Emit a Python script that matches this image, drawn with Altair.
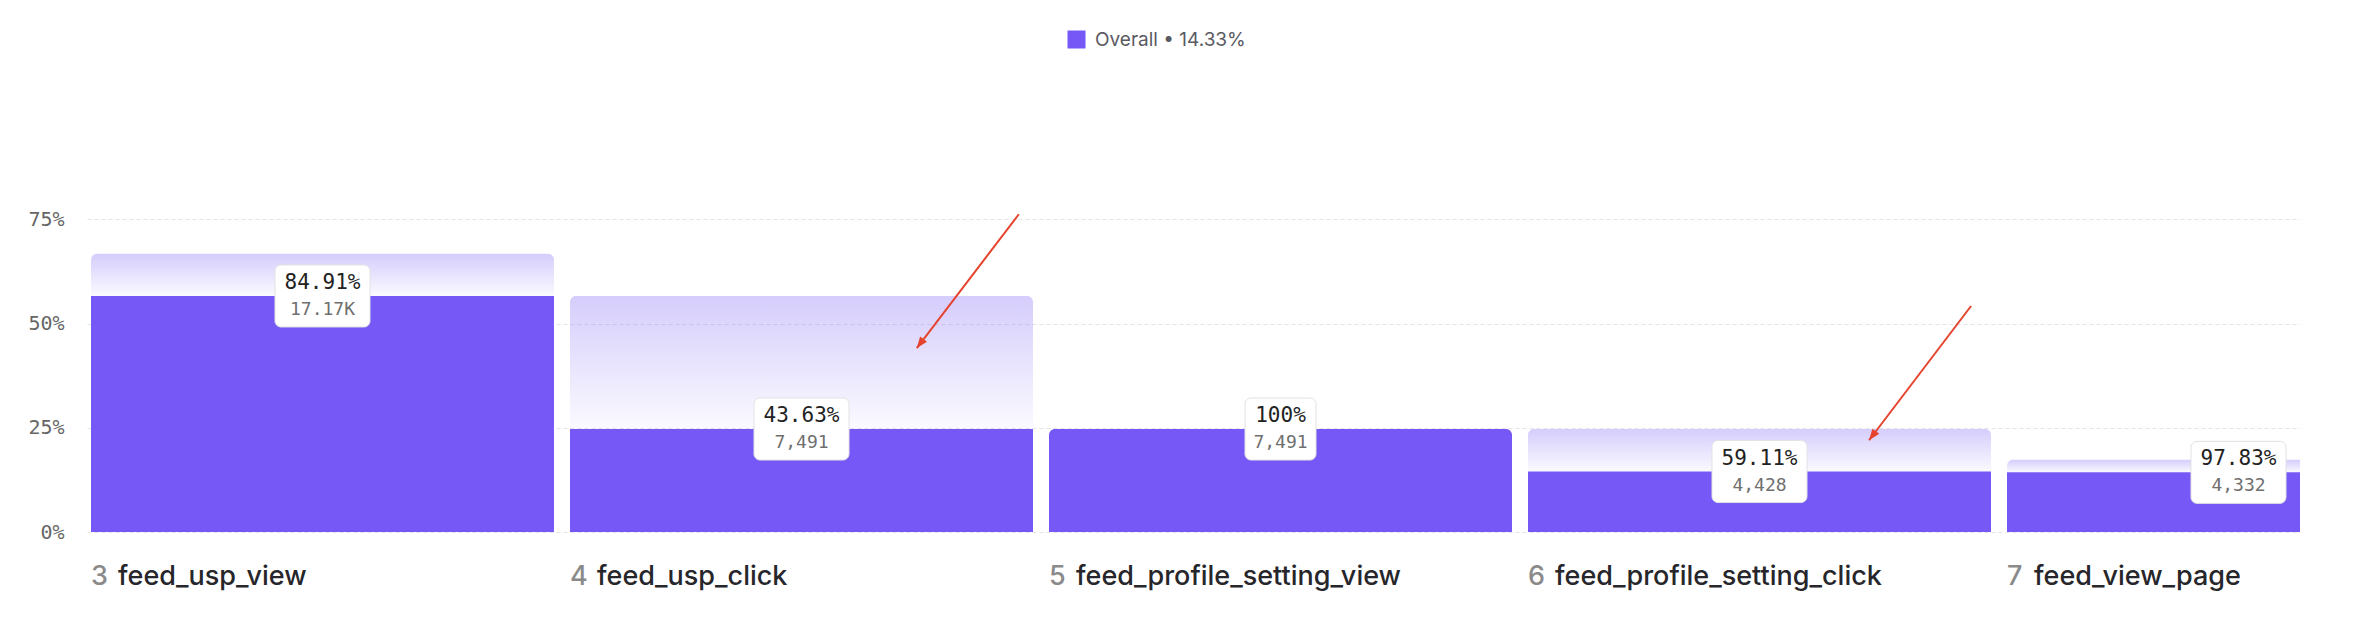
import altair as alt
import pandas as pd

# ---- data ----
step_index = [0, 1, 2, 3, 4]
step_nums = ["3", "4", "5", "6", "7"]
step_names = ["feed_usp_view", "feed_usp_click", "feed_profile_setting_view",
              "feed_profile_setting_click", "feed_view_page"]
entered_pct = [66.7, 56.6, 24.7, 24.7, 17.3]      # light (previous step) level, % of funnel start
converted_pct = [56.6, 24.7, 24.7, 14.5, 14.3]    # dark (converted) level, % of funnel start
rate_labels = ["84.91%", "43.63%", "100%", "59.11%", "97.83%"]
count_labels = ["17.17K", "7,491", "7,491", "4,428", "4,332"]
series_name = ["Overall • 14.33%"] * 5
y_ticks = [0, 25, 50, 75]

# annotation arrows (x in step units, y in %)
arrow_tail_x = [1.937, 3.925]
arrow_tail_y = [76.2, 54.2]
arrow_head_x = [1.724, 3.712]
arrow_head_y = [44.1, 22.0]

df = pd.DataFrame({
    "idx": step_index, "num": step_nums, "name": step_names,
    "entered": entered_pct, "converted": converted_pct,
    "rate": rate_labels, "count": count_labels, "series": series_name,
})
arrows = pd.DataFrame({"tx": arrow_tail_x, "ty": arrow_tail_y,
                       "hx": arrow_head_x, "hy": arrow_head_y})

W, H = 2213, 417
STEP = 479.0
BAR_FRAC = 463.0 / STEP
PURPLE = "#7558F5"

x_scale = alt.Scale(domain=[-4 / STEP, (W - 4) / STEP], nice=False, zero=False)
y_scale = alt.Scale(domain=[0, 100], nice=False)

base = alt.Chart(df).transform_calculate(
    end=f"datum.idx + {BAR_FRAC}",
    center=f"datum.idx + {BAR_FRAC / 2}",
    zero="0",
)

X = alt.X("idx:Q", scale=x_scale, axis=None)

gradient = alt.Gradient(
    gradient="linear",
    stops=[alt.GradientStop(color="rgba(117,88,245,0.30)", offset=0),
           alt.GradientStop(color="rgba(117,88,245,0.03)", offset=1)],
    x1=0, x2=0, y1=0, y2=1,
)

light = base.transform_filter("datum.entered > datum.converted").mark_bar(
    clip=True, color=gradient, cornerRadiusTopLeft=6, cornerRadiusTopRight=6
).encode(
    x=X, x2="end:Q",
    y=alt.Y("entered:Q", scale=y_scale, axis=alt.Axis(
        values=y_ticks, labelExpr="datum.value + '%'", grid=True,
        gridDash=[4, 3], gridColor="#e4e4e4", gridWidth=1,
        domain=False, ticks=False, labelFont="DejaVu Sans Mono",
        labelFontSize=20, labelColor="#666666", labelPadding=23, title=None)),
    y2="converted:Q",
)

legend = alt.Legend(orient="none", legendX=980, legendY=-85, title=None,
                    symbolType="square", symbolSize=324, symbolStrokeWidth=0,
                    labelFont="Inter", labelFontSize=19, labelColor="#5a5a62",
                    labelOffset=9, padding=0)

dark_sq = base.transform_filter("datum.entered > datum.converted").mark_bar(clip=True).encode(
    x=X, x2="end:Q",
    y=alt.Y("converted:Q", scale=y_scale), y2="zero:Q",
    color=alt.Color("series:N", scale=alt.Scale(range=[PURPLE]), legend=legend),
)
dark_rd = base.transform_filter("datum.entered <= datum.converted").mark_bar(
    clip=True, cornerRadiusTopLeft=6, cornerRadiusTopRight=6
).encode(
    x=X, x2="end:Q",
    y=alt.Y("converted:Q", scale=y_scale), y2="zero:Q",
    color=alt.Color("series:N", scale=alt.Scale(range=[PURPLE]), legend=legend),
)

def box(filter_expr, half_w):
    return base.transform_filter(filter_expr).mark_bar(
        color="white", stroke="#e2e2e2", strokeWidth=1, cornerRadius=6,
        xOffset=-half_w, x2Offset=half_w, yOffset=-31, y2Offset=31,
    ).encode(
        x=alt.X("center:Q", scale=x_scale, axis=None), x2="center:Q",
        y=alt.Y("converted:Q", scale=y_scale), y2="converted:Q",
    )

box_long = box("length(datum.rate) > 4", 47.5)
box_short = box("length(datum.rate) <= 4", 35.5)

rate_txt = base.mark_text(font="DejaVu Sans Mono", fontSize=21, color="#222222",
                          dy=-13, baseline="middle", align="center").encode(
    x=alt.X("center:Q", scale=x_scale, axis=None),
    y=alt.Y("converted:Q", scale=y_scale), text="rate:N")
count_txt = base.mark_text(font="DejaVu Sans Mono", fontSize=18, color="#6f6f6f",
                           dy=14, baseline="middle", align="center").encode(
    x=alt.X("center:Q", scale=x_scale, axis=None),
    y=alt.Y("converted:Q", scale=y_scale), text="count:N")

num_txt = base.mark_text(font="Inter", fontSize=27, fontWeight=500, color="#8a8a8a",
                         align="left", baseline="alphabetic", dy=53).encode(
    x=X, y=alt.Y("zero:Q", scale=y_scale), text="num:N")
name_txt = base.mark_text(font="Inter", fontSize=27, fontWeight=500, color="#26262b",
                          align="left", baseline="alphabetic", dy=53, dx=27).encode(
    x=X, y=alt.Y("zero:Q", scale=y_scale), text="name:N")

arrow_base = alt.Chart(arrows)
arrow_line = arrow_base.mark_rule(color="#e5432d", strokeWidth=2).encode(
    x=alt.X("tx:Q", scale=x_scale, axis=None), x2="hx:Q",
    y=alt.Y("ty:Q", scale=y_scale), y2="hy:Q")
arrow_head = arrow_base.mark_point(
    shape="M0,0 L0.5,1.3 L-0.5,1.3 Z", filled=True, color="#e5432d",
    size=300, angle=217, opacity=1, strokeWidth=0,
).encode(x=alt.X("hx:Q", scale=x_scale, axis=None), y=alt.Y("hy:Q", scale=y_scale))

chart = alt.layer(
    light, dark_sq, dark_rd, box_long, box_short, rate_txt, count_txt,
    num_txt, name_txt, arrow_line, arrow_head,
).properties(
    width=W, height=H,
    padding={"left": 79, "top": 107, "right": 40, "bottom": 90},
    autosize=alt.AutoSizeParams(type="none"),
).configure_view(strokeWidth=0)

chart.save("out.html", embed_options={"renderer": "svg", "actions": False})
